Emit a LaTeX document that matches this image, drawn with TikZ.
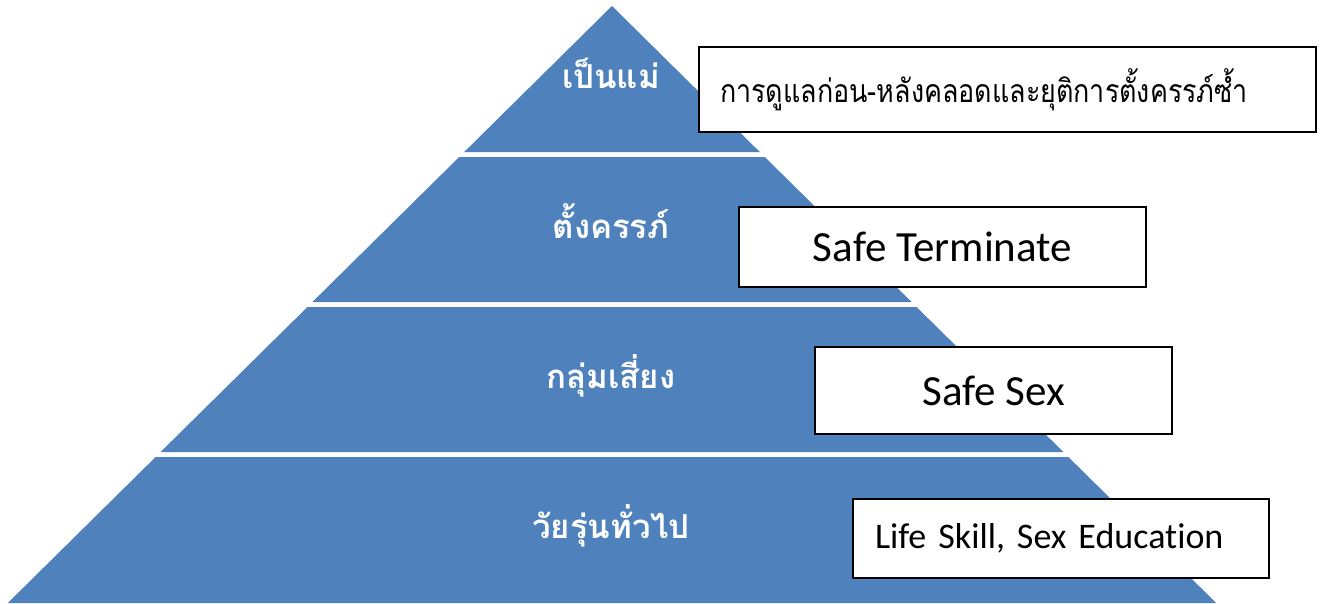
\documentclass[tikz,border=0pt]{standalone}
\usepackage{fontspec}
\setmainfont{Carlito}[Ligatures=NoCommon]
\newfontfamily\thaifont[Script=Thai]{Loma}
\newfontfamily\thainarrow[Script=Thai,FakeStretch=0.84]{Loma}
\usepackage{tikz}

\definecolor{pyrblue}{HTML}{4F81BD}

\tikzset{
  level/.style={fill=pyrblue,draw=none},
  levellabel/.style={text=white,anchor=base,inner sep=0pt,
    font=\thaifont\bfseries\fontsize{33}{33}\selectfont},
  notebox/.style={draw=black,line width=1.5pt,fill=white,inner ysep=0pt}
}

\begin{document}
\begin{tikzpicture}[x=1pt,y=-1pt]
  \useasboundingbox (0,0) rectangle (1323,603);

  % pyramid, four bands
  \draw[level] (612,6) -- (759.8,152) -- (464.2,152) -- cycle;
  \draw[level] (459.2,157) -- (764.8,157) -- (911.6,302) -- (312.4,302) -- cycle;
  \draw[level] (307.4,307) -- (916.6,307) -- (1063.4,452) -- (160.6,452) -- cycle;
  \draw[level] (155.6,457) -- (1068.4,457) -- (1216.2,603) -- (7.8,603) -- cycle;

  \node[levellabel] (mother)   at (611,88)  {เป็นแม่};
  \node[levellabel] (pregnant) at (611,238) {ตั้งครรภ์};
  \node[levellabel] (risk)     at (611,388) {กลุ่มเสี่ยง};
  \node[levellabel] (teen)     at (611,538) {วัยรุ่นทั่วไป};

  % boxes on the right
  \node[notebox,minimum width=617pt,minimum height=85pt,text width=575pt,
        inner xsep=21pt,align=left,font=\thainarrow\fontsize{32}{32}\selectfont]
        (care) at (1007.5,89.5) {\mbox{การดูแลก่อน-หลังคลอดและยุติการตั้งครรภ์ซ้ำ}};
  \node[notebox,minimum width=407pt,minimum height=80pt,
        font=\fontsize{43}{43}\selectfont]
        (terminate) at (942.5,247) {Safe Terminate};
  \node[notebox,minimum width=357pt,minimum height=87pt,
        font=\fontsize{43}{43}\selectfont]
        (safesex) at (993.5,390.5) {Safe Sex};
  \node[notebox,minimum width=416pt,minimum height=79pt,text width=372pt,
        inner xsep=22pt,align=left,font=\fontsize{36}{36}\selectfont]
        (skill) at (1061,538.5) {Life Skill, Sex Education};
\end{tikzpicture}
\end{document}
